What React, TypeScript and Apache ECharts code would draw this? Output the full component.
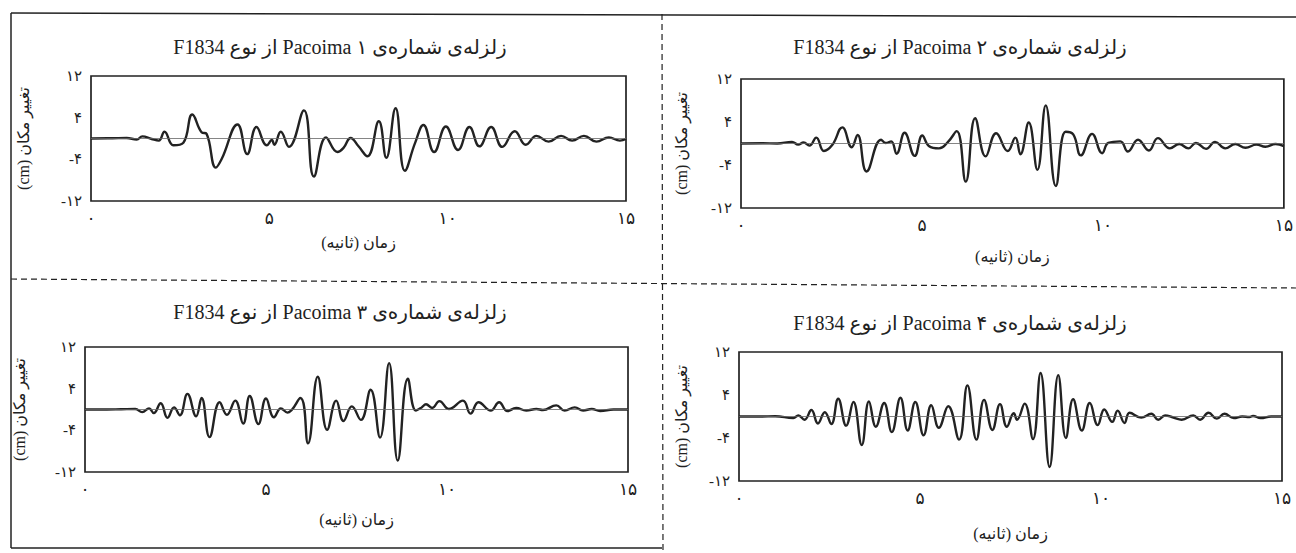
import React, { useEffect, useRef } from "react";
import * as echarts from "echarts";

// ---- data (time in seconds, displacement in cm) ----
const quake1: [number, number][] = [
  [0, 0], [0.6, 0.05], [1.0, 0.1], [1.28, -0.2], [1.44, 0.4], [1.7, -0.1], [1.9, -0.4],
  [2.06, 1.3], [2.31, -1.3], [2.59, -0.8], [2.84, 4.6], [3.1, 1.2], [3.24, 0.9], [3.5, -5.6],
  [3.66, -4.0], [4.11, 2.7], [4.38, -3.0], [4.64, 2.2], [4.93, -1.3], [5.07, -0.3], [5.14, -1.2],
  [5.32, 1.3], [5.55, -1.6], [5.97, 5.4], [6.25, -7.3], [6.59, 0.2], [6.91, -2.6], [7.08, -1.8],
  [7.28, 0.1], [7.5, -1.5], [7.75, -3.4], [8.07, 3.3], [8.28, -3.7], [8.54, 5.8], [8.8, -6.2],
  [9.09, -0.8], [9.32, 2.6], [9.62, -2.6], [9.95, 2.3], [10.29, -2.2], [10.61, 2.2], [10.89, -1.5],
  [11.22, 2.2], [11.53, -1.6], [11.88, 1.4], [12.19, -1.2], [12.49, 0.5], [12.83, -0.6],
  [13.18, 0.5], [13.49, -0.4], [13.82, 0.5], [14.17, -0.6], [14.52, 0.2], [14.83, -0.4], [15, -0.1],
];

const quake2: [number, number][] = [
  [0, 0], [0.6, 0.05], [1.0, 0], [1.41, 0.3], [1.58, -0.2], [1.73, 0.2], [1.89, -0.4],
  [2.08, 1.1], [2.29, -1.4], [2.52, -0.3], [2.8, 3.0], [3.06, -0.7], [3.22, 1.6], [3.47, -5.2],
  [3.87, 0.7], [4.0, 0.1], [4.15, 0.4], [4.3, -1.9], [4.52, 2.0], [4.8, -2.3], [5.01, 1.5],
  [5.19, -0.45], [5.47, -0.9], [5.72, 0.3], [5.96, 2.3], [6.21, -7.1], [6.47, 4.7], [6.76, -2.4],
  [7.05, 1.9], [7.37, -1.4], [7.58, 1.1], [7.72, -2.0], [7.95, 3.9], [8.19, -4.9], [8.42, 7.1],
  [8.7, -7.9], [8.97, 2.2], [9.18, 1.7], [9.39, -2.2], [9.7, 1.8], [9.98, -1.8], [10.15, 0.1],
  [10.48, 0.4], [10.69, -1.5], [10.97, 0.7], [11.27, -1.3], [11.52, 1.0], [11.85, -0.9],
  [12.11, -0.1], [12.36, -0.9], [12.57, 0.1], [12.85, -1.0], [13.1, 0.3], [13.38, -0.9],
  [13.66, -0.1], [13.94, -0.8], [14.24, -0.2], [14.49, -0.6], [14.77, -0.1], [15, -0.5],
];

const quake3: [number, number][] = [
  [0, 0], [0.6, 0], [1.0, 0.05], [1.39, 0.1], [1.58, -0.5], [1.77, 0.2], [1.9, -0.7],
  [2.09, 1.2], [2.28, -1.6], [2.46, 0.4], [2.62, -1.1], [2.83, 3.0], [3.07, -1.3], [3.22, 2.2],
  [3.44, -5.3], [3.72, 1.4], [3.92, -1.0], [4.15, 1.7], [4.37, -2.7], [4.55, 2.6], [4.79, -2.8],
  [5.0, 2.1], [5.22, -1.5], [5.41, 0.2], [5.59, -0.6], [5.95, 2.2], [6.16, -6.5], [6.43, 6.3],
  [6.69, -3.9], [6.94, 1.7], [7.14, -2.2], [7.37, 0.6], [7.62, -2.0], [7.89, 3.8], [8.15, -5.4],
  [8.4, 8.9], [8.64, -9.8], [8.92, 5.9], [9.14, -0.2], [9.3, 0.4], [9.42, 1.0], [9.59, 0.3],
  [9.79, 1.6], [10.05, 0.1], [10.44, 1.7], [10.65, -0.8], [10.87, 1.4], [11.21, -0.2],
  [11.44, 1.4], [11.67, -0.3], [11.91, 0.3], [12.19, -0.2], [12.47, 0.1], [12.65, -0.1],
  [13.02, 0.8], [13.25, -0.2], [13.53, 0.4], [13.76, -0.2], [14.0, 0.1], [14.23, -0.3],
  [14.6, 0], [15, 0],
];

const quake4: [number, number][] = [
  [0, 0], [0.6, 0], [1.0, 0.05], [1.5, -0.3], [1.64, 0.2], [1.81, -0.6],
  [2.0, 1.2], [2.18, -1.3], [2.37, 0.8], [2.55, -1.4], [2.74, 3.3], [2.96, -1.7], [3.16, 2.7],
  [3.39, -5.3], [3.59, 2.8], [3.78, -1.9], [4.01, 2.5], [4.22, -2.9], [4.46, 3.5], [4.66, -2.6],
  [4.87, 2.7], [5.1, -3.5], [5.31, 2.1], [5.52, -2.1], [5.78, 1.9], [6.08, -4.3], [6.31, 5.8],
  [6.56, -4.3], [6.77, 3.1], [7.0, -2.5], [7.21, 2.3], [7.4, -1.9], [7.59, 0.6], [7.68, -0.6],
  [7.89, 2.4], [8.12, -4.2], [8.33, 8.1], [8.58, -9.4], [8.82, 7.7], [9.03, -4.0], [9.23, 3.2],
  [9.47, -2.6], [9.69, 2.5], [9.91, -1.6], [10.09, 1.3], [10.31, -1.0], [10.46, 1.1],
  [10.65, -1.2], [10.79, 0.7], [11.11, -0.2], [11.39, 0.5], [11.58, -0.6], [11.77, 0.2],
  [12.0, -0.2], [12.23, -0.6], [12.55, 0.2], [12.74, -0.6], [12.97, 0.7], [13.2, -0.4],
  [13.41, 0.5], [13.67, -0.3], [13.9, 0], [14.1, -0.1], [14.2, 0.1], [14.41, -0.3], [14.7, 0],
  [15, 0],
];

const quakes = [quake1, quake2, quake3, quake4];
const quakeNumbers = [1, 2, 3, 4];
const xTicks = [0, 5, 10, 15];
const yTicks = [12, 4, -4, -12];

const xName = "زمان (ثانیه)";
const yName = "تغییر مکان (cm)";

// ---- layout ----
const panels = [
  { grid: { left: 91, top: 76, width: 535, height: 125 }, title: [340, 47], xGap: 33, yGap: 60 },
  { grid: { left: 741, top: 79, width: 543, height: 129 }, title: [960, 47], xGap: 40, yGap: 52 },
  { grid: { left: 85, top: 347, width: 543, height: 125 }, title: [340, 312], xGap: 39, yGap: 58 },
  { grid: { left: 739, top: 352, width: 543, height: 129 }, title: [960, 323], xGap: 44, yGap: 50 },
];

const FONT = "'Liberation Serif', 'DejaVu Sans', serif";
const INK = "#222222";

const toFa = (n: number) =>
  String(n).replace(/\d/g, (d) => "۰۱۲۳۴۵۶۷۸۹"[Number(d)]);
const rtl = (s: string) => "\u202B" + s + "\u202C";

export default function App() {
  const ref = useRef<HTMLDivElement>(null);

  useEffect(() => {
    if (!ref.current) return;
    const chart = echarts.init(ref.current, undefined, { renderer: "svg" });

    const grids = panels.map((p) => ({
      ...p.grid,
      show: true,
      borderColor: INK,
      borderWidth: 1.7,
      backgroundColor: "transparent",
    }));

    const xAxes = panels.map((p, i) => ({
      type: "value",
      gridIndex: i,
      min: 0,
      max: 15,
      interval: 5,
      name: rtl(xName),
      nameLocation: "middle",
      nameGap: p.xGap,
      nameTextStyle: { fontFamily: FONT, fontSize: 16, color: INK },
      axisLine: { show: false },
      axisTick: { show: false },
      splitLine: { show: false },
      axisLabel: {
        margin: 9,
        fontFamily: FONT,
        fontSize: 17,
        color: INK,
        formatter: (v: number) => (xTicks.includes(v) ? toFa(v) : ""),
      },
    }));

    const yAxes = panels.map((p, i) => ({
      type: "value",
      gridIndex: i,
      min: -12,
      max: 12,
      interval: 4,
      name: rtl(yName),
      nameLocation: "middle",
      nameGap: p.yGap,
      nameTextStyle: { fontFamily: FONT, fontSize: 16, color: INK },
      axisLine: { show: false },
      axisTick: { show: false },
      splitLine: { show: false },
      axisLabel: {
        margin: 9,
        fontFamily: FONT,
        fontSize: 15,
        color: INK,
        formatter: (v: number) => (yTicks.includes(v) ? toFa(v) : ""),
      },
    }));

    const series = quakes.map((data, i) => ({
      type: "line",
      xAxisIndex: i,
      yAxisIndex: i,
      data,
      smooth: 0.45,
      showSymbol: false,
      symbol: "none",
      lineStyle: { color: INK, width: 2.4 },
      markLine: {
        silent: true,
        symbol: ["none", "none"],
        label: { show: false },
        lineStyle: { color: "#666", width: 0.8, type: "solid" },
        data: [{ yAxis: 0 }],
      },
    }));

    const titles = panels.map((p, i) => ({
      type: "text",
      x: p.title[0],
      y: p.title[1],
      style: {
        text: rtl(`زلزله\u200Cی شماره\u200Cی ${toFa(quakeNumbers[i])} Pacoima از نوع F1834`),
        align: "center",
        verticalAlign: "middle",
        fontFamily: FONT,
        fontSize: 20,
        fill: INK,
      },
    }));

    const frame = [
      { type: "line", shape: { x1: 11, y1: 13, x2: 1296, y2: 17 }, style: { stroke: INK, lineWidth: 1.5 } },
      { type: "line", shape: { x1: 11, y1: 13, x2: 11, y2: 548 }, style: { stroke: INK, lineWidth: 1.5 } },
      { type: "line", shape: { x1: 11, y1: 548, x2: 662, y2: 548 }, style: { stroke: INK, lineWidth: 1.5 } },
      { type: "line", shape: { x1: 11, y1: 279, x2: 1296, y2: 288 }, style: { stroke: INK, lineWidth: 1.2, lineDash: [6, 4] } },
      { type: "line", shape: { x1: 662, y1: 14, x2: 663, y2: 553 }, style: { stroke: INK, lineWidth: 1.2, lineDash: [6, 4] } },
    ];

    chart.setOption({
      animation: false,
      backgroundColor: "#ffffff",
      grid: grids,
      xAxis: xAxes,
      yAxis: yAxes,
      series,
      graphic: [...frame, ...titles],
    });

    return () => chart.dispose();
  }, []);

  return (
    <div
      ref={ref}
      style={{ position: "fixed", left: 0, top: 0, width: 1296, height: 553 }}
    />
  );
}
